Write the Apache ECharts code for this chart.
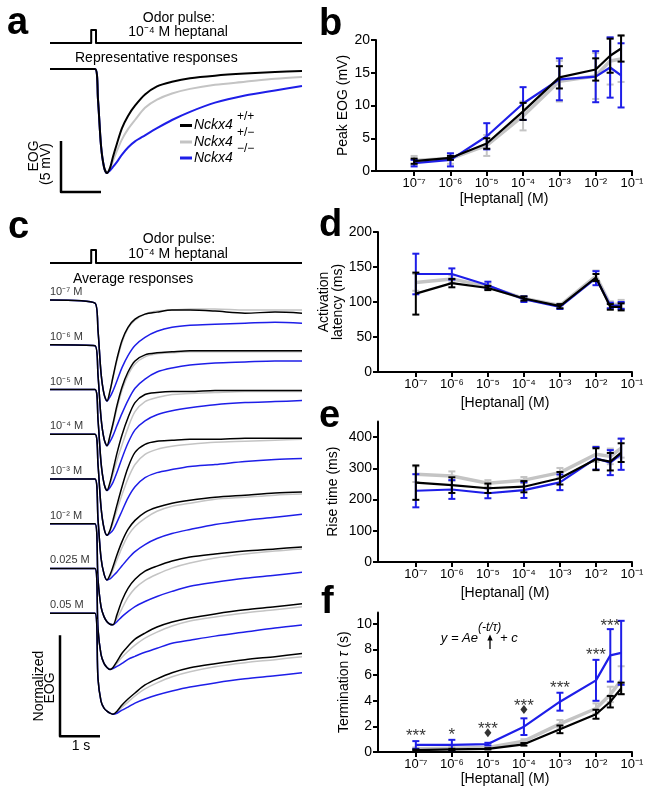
<!DOCTYPE html>
<html><head><meta charset="utf-8">
<script src="https://cdn.jsdelivr.net/npm/echarts@6/dist/echarts.min.js"></script>
<style>html,body{margin:0;padding:0;background:#fff}#c{width:654px;height:792px}</style>
</head><body><div id="c"></div>
<script>
// ---------------- DATA ----------------
// odor pulse (s, on/off)
const stimT = [0, 1.03, 1.03, 1.15, 1.15, 6.3];
const stimV = [0, 0, 1, 1, 0, 0];
// trace sampling times (s)
const tTrace = [0, 1.125, 1.2, 1.275, 1.35, 1.425, 1.5, 1.575, 1.675, 1.8, 1.95, 2.125, 2.375, 2.675, 3.05, 3.5, 4.125, 4.875, 5.625, 6.3];
// panel a: representative responses (mV)
const aWT  = [0, 0, -3, -7.5, -9.6, -10.2, -9.7, -8.6, -7.3, -5.8, -4.6, -3.6, -2.5, -1.7, -1.25, -0.9, -0.65, -0.45, -0.3, -0.2];
const aHet = [0, 0, -3, -7.5, -9.6, -10.2, -9.8, -9.0, -8.0, -6.9, -5.9, -5.0, -3.8, -3.0, -2.4, -1.95, -1.55, -1.25, -0.95, -0.78];
const aKO  = [0, 0, -3, -7.5, -9.6, -10.2, -9.95, -9.6, -9.1, -8.4, -7.7, -7.1, -6.5, -5.8, -5.0, -4.2, -3.3, -2.6, -2.1, -1.67];
// panel c: normalized average responses
const cLabels = ['10\u207B\u2077 M', '10\u207B\u2076 M', '10\u207B\u2075 M', '10\u207B\u2074 M', '10\u207B\u00B3 M', '10\u207B\u00B2 M', '0.025 M', '0.05 M'];
const c7k = [0, -0.03, -0.3, -0.72, -0.93, -1.0, -0.9, -0.76, -0.58, -0.4, -0.27, -0.19, -0.14, -0.12, -0.1, -0.1, -0.11, -0.13, -0.12, -0.13];
const c7g = [0, -0.03, -0.3, -0.72, -0.93, -1.0, -0.9, -0.77, -0.6, -0.42, -0.28, -0.2, -0.14, -0.11, -0.1, -0.09, -0.09, -0.1, -0.1, -0.1];
const c7b = [0, -0.03, -0.3, -0.72, -0.93, -1.0, -0.96, -0.9, -0.8, -0.67, -0.55, -0.45, -0.37, -0.31, -0.27, -0.25, -0.24, -0.23, -0.22, -0.23];
const c6k = [0, -0.01, -0.3, -0.72, -0.93, -1.0, -0.9, -0.78, -0.6, -0.42, -0.27, -0.16, -0.1, -0.08, -0.07, -0.06, -0.06, -0.06, -0.06, -0.06];
const c6g = [0, -0.01, -0.3, -0.72, -0.93, -1.0, -0.91, -0.8, -0.63, -0.45, -0.3, -0.19, -0.12, -0.09, -0.08, -0.07, -0.07, -0.07, -0.07, -0.07];
const c6b = [0, -0.01, -0.3, -0.72, -0.93, -1.0, -0.96, -0.9, -0.8, -0.68, -0.55, -0.43, -0.34, -0.27, -0.23, -0.2, -0.18, -0.17, -0.16, -0.16];
const c5k = [0, 0, -0.3, -0.72, -0.93, -1.0, -0.92, -0.8, -0.63, -0.45, -0.28, -0.13, -0.05, -0.03, -0.02, -0.02, -0.01, -0.01, -0.01, -0.01];
const c5g = [0, 0, -0.3, -0.72, -0.93, -1.0, -0.94, -0.84, -0.7, -0.55, -0.38, -0.22, -0.12, -0.08, -0.05, -0.04, -0.03, -0.02, -0.02, -0.02];
const c5b = [0, 0, -0.3, -0.72, -0.93, -1.0, -0.97, -0.92, -0.82, -0.68, -0.53, -0.4, -0.31, -0.25, -0.21, -0.18, -0.15, -0.13, -0.12, -0.11];
const c4k = [0, 0, -0.3, -0.72, -0.93, -1.0, -0.95, -0.85, -0.7, -0.52, -0.33, -0.18, -0.1, -0.07, -0.06, -0.05, -0.05, -0.04, -0.04, -0.04];
const c4g = [0, 0, -0.3, -0.72, -0.93, -1.0, -0.96, -0.88, -0.75, -0.6, -0.44, -0.3, -0.2, -0.15, -0.12, -0.1, -0.08, -0.07, -0.06, -0.05];
const c4b = [0, 0, -0.3, -0.72, -0.93, -1.0, -0.98, -0.95, -0.87, -0.76, -0.63, -0.52, -0.43, -0.38, -0.35, -0.32, -0.3, -0.27, -0.25, -0.24];
const c3k = [0, 0, -0.4, -0.78, -0.94, -1.0, -0.95, -0.87, -0.75, -0.62, -0.5, -0.41, -0.33, -0.28, -0.24, -0.21, -0.18, -0.16, -0.14, -0.13];
const c3g = [0, 0, -0.4, -0.78, -0.94, -1.0, -0.97, -0.9, -0.8, -0.68, -0.56, -0.47, -0.39, -0.32, -0.27, -0.24, -0.2, -0.18, -0.16, -0.15];
const c3b = [0, 0, -0.4, -0.78, -0.94, -1.0, -0.99, -0.96, -0.92, -0.86, -0.79, -0.72, -0.65, -0.59, -0.54, -0.5, -0.45, -0.41, -0.38, -0.35];
const c2k = [0, 0, -0.55, -0.82, -0.92, -0.97, -0.995, -1.0, -0.9, -0.76, -0.64, -0.55, -0.47, -0.42, -0.37, -0.33, -0.3, -0.27, -0.25, -0.23];
const c2g = [0, 0, -0.55, -0.82, -0.92, -0.97, -0.995, -1.0, -0.94, -0.84, -0.73, -0.64, -0.56, -0.5, -0.44, -0.39, -0.34, -0.3, -0.27, -0.25];
const c2b = [0, 0, -0.55, -0.82, -0.92, -0.97, -0.995, -1.0, -0.97, -0.92, -0.87, -0.82, -0.77, -0.72, -0.67, -0.62, -0.58, -0.54, -0.51, -0.48];
const c25k = [0, 0, -0.6, -0.85, -0.94, -0.98, -1.0, -0.98, -0.92, -0.84, -0.77, -0.7, -0.64, -0.58, -0.53, -0.49, -0.45, -0.41, -0.38, -0.35];
const c25g = [0, 0, -0.6, -0.85, -0.94, -0.98, -1.0, -0.99, -0.94, -0.88, -0.82, -0.76, -0.69, -0.63, -0.57, -0.52, -0.48, -0.44, -0.41, -0.38];
const c25b = [0, 0, -0.6, -0.85, -0.94, -0.98, -1.0, -0.99, -0.97, -0.94, -0.9, -0.87, -0.83, -0.79, -0.74, -0.71, -0.67, -0.63, -0.59, -0.56];
const c50k = [0, 0, -0.65, -0.87, -0.94, -0.97, -0.99, -1.0, -0.97, -0.91, -0.85, -0.79, -0.71, -0.65, -0.59, -0.54, -0.5, -0.46, -0.43, -0.4];
const c50g = [0, 0, -0.65, -0.87, -0.94, -0.97, -0.99, -1.0, -0.98, -0.93, -0.88, -0.82, -0.75, -0.69, -0.63, -0.58, -0.53, -0.49, -0.46, -0.43];
const c50b = [0, 0, -0.65, -0.87, -0.94, -0.97, -0.99, -1.0, -0.99, -0.96, -0.93, -0.89, -0.85, -0.81, -0.77, -0.73, -0.69, -0.65, -0.62, -0.59];

// panels b, d, e, f: concentration series
const conc = [1e-7, 1e-6, 1e-5, 1e-4, 1e-3, 1e-2, 0.025, 0.05];
const xTickExp = [-7, -6, -5, -4, -3, -2, -1];
const xTickLabels = ['10\u207B\u2077', '10\u207B\u2076', '10\u207B\u2075', '10\u207B\u2074', '10\u207B\u00B3', '10\u207B\u00B2', '10\u207B\u00B9'];

const peakWT = [1.5, 2.0, 4.2, 9.1, 14.3, 15.5, 17.6, 18.7];
const peakWTErr = [0.4, 0.3, 0.8, 1.3, 1.7, 1.7, 2.6, 2.0];
const peakHet = [1.6, 1.9, 3.9, 8.4, 13.7, 14.5, 16.8, 17.1];
const peakHetErr = [0.7, 0.8, 1.6, 2.2, 3.1, 3.5, 3.6, 3.5];
const peakKO = [1.2, 1.7, 5.3, 10.3, 14.0, 14.4, 15.8, 14.6];
const peakKOErr = [0.5, 1.0, 2.0, 2.5, 3.2, 3.9, 4.6, 4.9];

const latWT = [112, 127, 120, 105, 94, 135, 93, 93];
const latWTErr = [30, 6, 3, 3, 3, 5, 4, 5];
const latHet = [128, 133, 122, 105, 95, 137, 96, 97];
const latHetErr = [12, 5, 4, 3, 3, 8, 5, 6];
const latKO = [140, 140, 124, 104, 93, 134, 95, 95];
const latKOErr = [29, 8, 5, 4, 3, 10, 4, 5];

const riseWT = [254, 246, 236, 241, 268, 329, 321, 350];
const riseWTErr = [55, 25, 15, 18, 20, 35, 28, 30];
const riseHet = [281, 275, 252, 262, 286, 345, 338, 364];
const riseHetErr = [25, 15, 10, 10, 15, 25, 25, 30];
const riseKO = [228, 232, 220, 230, 255, 332, 318, 345];
const riseKOErr = [53, 30, 16, 25, 25, 36, 40, 50];

const tauWT = [0.15, 0.2, 0.25, 0.6, 1.77, 2.95, 3.93, 4.97];
const tauWTErr = [0.05, 0.05, 0.05, 0.1, 0.3, 0.35, 0.45, 0.45];
const tauHet = [0.25, 0.3, 0.35, 0.85, 2.2, 3.4, 4.5, 5.6];
const tauHetErr = [0.1, 0.1, 0.1, 0.15, 0.3, 0.4, 0.6, 1.1];
const tauKO = [0.55, 0.55, 0.62, 1.98, 3.93, 5.6, 7.55, 7.75];
const tauKOErr = [0.3, 0.4, 0.1, 0.65, 0.7, 1.6, 2.05, 2.5];

// significance marks in f
const sigText = ['***', '*', '***', '***', '***', '***', '***'];
const sigConc = [1e-7, 1e-6, 1e-5, 1e-4, 1e-3, 1e-2, 0.025];
const sigY = [1.22, 1.29, 1.76, 3.55, 4.96, 7.54, 9.8];
const diamondConc = [1e-5, 1e-4];
const diamondY = [1.5, 3.33];

// ---------------- CHART ----------------
const FONT = 'Liberation Sans, Arial, Helvetica, sans-serif';
const BLACK = '#000000', GRAY = '#c4c4c4', BLUE = '#1e1ee8';
const chart = echarts.init(document.getElementById('c'), null, {renderer: 'canvas'});

const grids = [
  {left: 50, top: 30, width: 252, height: 13},      // 0 stim a
  {left: 50, top: 63.9, width: 252, height: 132.6}, // 1 traces a
  {left: 50, top: 250, width: 252, height: 13},     // 2 stim c
  {left: 50, top: 289.9, width: 252, height: 464.6},// 3 traces c
  {left: 376, top: 40, width: 256, height: 131},    // 4 b
  {left: 378, top: 232, width: 254, height: 140},   // 5 d
  {left: 378, top: 421.4, width: 254, height: 140.6}, // 6 e
  {left: 378, top: 612.5, width: 254, height: 139.5}  // 7 f
];
const xAxes = [], yAxes = [], series = [];
function hiddenAxes(gi, xmin, xmax, ymin, ymax) {
  xAxes.push({gridIndex: gi, type: 'value', min: xmin, max: xmax, show: false});
  yAxes.push({gridIndex: gi, type: 'value', min: ymin, max: ymax, show: false});
}
hiddenAxes(0, 0, 6.3, 0, 1);
hiddenAxes(1, 0, 6.3, -12.5, 0.5);
hiddenAxes(2, 0, 6.3, 0, 1);
hiddenAxes(3, 0, 6.3, -4.5, 0.1);

function lineS(gi, data, color, width, z) {
  return {type: 'line', xAxisIndex: gi, yAxisIndex: gi, data: data, symbol: 'none', silent: true,
    lineStyle: {color: color, width: width, cap: 'butt', join: 'round'}, z: z || 2, animation: false};
}
function smoothS(gi, data, color, width, z) {
  const s = lineS(gi, data, color, width, z); s.smooth = 0.3; return s;
}
const zip = (t, v, off) => t.map((x, i) => [x, v[i] - (off || 0)]);

// stimulus lines
series.push(lineS(0, zip(stimT, stimV), BLACK, 2));
series.push(lineS(2, zip(stimT, stimV), BLACK, 2));
// panel a traces
series.push(smoothS(1, zip(tTrace, aHet), GRAY, 2));
series.push(smoothS(1, zip(tTrace, aKO), BLUE, 2));
series.push(smoothS(1, zip(tTrace, aWT), BLACK, 2));
// scale bar a: 5 mV, 1 s
const sbA = {t0: 0.275, v0: -12.05, dv: 5, dt: 1};
series.push(lineS(1, [[sbA.t0, sbA.v0 + sbA.dv], [sbA.t0, sbA.v0], [sbA.t0 + sbA.dt, sbA.v0]], BLACK, 2.5));

// panel c traces
const cSets = [[c7k, c7g, c7b], [c6k, c6g, c6b], [c5k, c5g, c5b], [c4k, c4g, c4b], [c3k, c3g, c3b], [c2k, c2g, c2b], [c25k, c25g, c25b], [c50k, c50g, c50b]];
const cStep = 0.443;
cSets.forEach((s, i) => {
  const off = i * cStep;
  series.push(smoothS(3, zip(tTrace, s[1], off), GRAY, 1.5));
  series.push(smoothS(3, zip(tTrace, s[2], off), BLUE, 1.5));
  series.push(smoothS(3, zip(tTrace, s[0], off), BLACK, 1.5));
});
series.push({type: 'scatter', xAxisIndex: 3, yAxisIndex: 3, symbolSize: 1, itemStyle: {color: 'rgba(0,0,0,0)'},
  data: cLabels.map((l, i) => ({value: [0, -i * cStep], name: l})), silent: true, animation: false,
  label: {show: true, position: 'top', align: 'left', distance: 2, fontSize: 11, color: '#000', fontFamily: FONT, formatter: p => p.name}});
// scale bar c: 1 normalized unit, 1 s
const sbC = {t0: 0.25, v0: -4.32, dv: 1, dt: 1};
series.push(lineS(3, [[sbC.t0, sbC.v0 + sbC.dv], [sbC.t0, sbC.v0], [sbC.t0 + sbC.dt, sbC.v0]], BLACK, 2.5));

// summary panels
const lx = conc.map(c => Math.log10(c));
function errS(gi, ys, es, color, width, z) {
  return {type: 'custom', xAxisIndex: gi, yAxisIndex: gi, silent: true, animation: false, z: z,
    data: lx.map((x, i) => [x, ys[i], es[i]]), encode: {x: 0, y: 1},
    renderItem: function (params, api) {
      const x = api.value(0), y = api.value(1), e = api.value(2);
      const a = api.coord([x, y + e]), b = api.coord([x, y - e]);
      const w = 3.5, st = {stroke: color, lineWidth: width};
      return {type: 'group', children: [
        {type: 'line', shape: {x1: a[0], y1: a[1], x2: b[0], y2: b[1]}, style: st},
        {type: 'line', shape: {x1: a[0] - w, y1: a[1], x2: a[0] + w, y2: a[1]}, style: st},
        {type: 'line', shape: {x1: b[0] - w, y1: b[1], x2: b[0] + w, y2: b[1]}, style: st}
      ]};
    }};
}
const summary = [
  {gi: 4, wt: peakWT, wte: peakWTErr, het: peakHet, hete: peakHetErr, ko: peakKO, koe: peakKOErr, max: 20, ticks: [0, 5, 10, 15, 20], name: 'Peak EOG (mV)', gap: 26, xgap: 21},
  {gi: 5, wt: latWT, wte: latWTErr, het: latHet, hete: latHetErr, ko: latKO, koe: latKOErr, max: 200, ticks: [0, 50, 100, 150, 200], name: 'Activation\nlatency (ms)', gap: 33, xgap: 24},
  {gi: 6, wt: riseWT, wte: riseWTErr, het: riseHet, hete: riseHetErr, ko: riseKO, koe: riseKOErr, max: 450, ticks: [0, 100, 200, 300, 400], name: 'Rise time (ms)', gap: 38, xgap: 24},
  {gi: 7, wt: tauWT, wte: tauWTErr, het: tauHet, hete: tauHetErr, ko: tauKO, koe: tauKOErr, max: 10.9, ticks: [0, 2, 4, 6, 8, 10], name: '{n|Termination }{i|\u03C4}{n| (s)}', gap: 27, xgap: 19}
];
const axLine = {lineStyle: {color: '#000', width: 2}};
summary.forEach(p => {
  xAxes.push({gridIndex: p.gi, type: 'value', min: -8.05, max: -1,
    axisLine: axLine,
    axisTick: {customValues: xTickExp, length: 5, lineStyle: {color: '#000', width: 2}},
    axisLabel: {customValues: xTickExp, formatter: v => xTickLabels[xTickExp.indexOf(Math.round(v))], color: '#000', fontSize: 13, fontFamily: FONT, margin: 6},
    splitLine: {show: false},
    name: '[Heptanal] (M)', nameLocation: 'middle', nameGap: p.xgap,
    nameTextStyle: {color: '#000', fontSize: 14, fontFamily: FONT}});
  yAxes.push({gridIndex: p.gi, type: 'value', min: 0, max: p.max,
    axisLine: Object.assign({show: true}, axLine),
    axisTick: {show: true, customValues: p.ticks, length: 5, lineStyle: {color: '#000', width: 2}},
    axisLabel: {customValues: p.ticks, color: '#000', fontSize: 14, fontFamily: FONT, margin: 6},
    splitLine: {show: false},
    name: p.name, nameLocation: 'middle', nameGap: p.gap, nameRotate: 90,
    nameTextStyle: {color: '#000', fontSize: 14, fontFamily: FONT, lineHeight: 14,
      rich: {n: {fontSize: 14, fontFamily: FONT, color: '#000'}, i: {fontSize: 14, fontFamily: FONT, fontStyle: 'italic', color: '#000'}}}});
  series.push(lineS(p.gi, lx.map((x, i) => [x, p.het[i]]), GRAY, 3.5, 3));
  series.push(errS(p.gi, p.het, p.hete, GRAY, 2, 3));
  series.push(lineS(p.gi, lx.map((x, i) => [x, p.ko[i]]), BLUE, 2.2, 4));
  series.push(errS(p.gi, p.ko, p.koe, BLUE, 2, 4));
  series.push(lineS(p.gi, lx.map((x, i) => [x, p.wt[i]]), BLACK, 2.2, 5));
  series.push(errS(p.gi, p.wt, p.wte, BLACK, 2, 5));
});
// significance in f
series.push({type: 'scatter', xAxisIndex: 7, yAxisIndex: 7, symbolSize: 1, itemStyle: {color: 'rgba(0,0,0,0)'}, silent: true, animation: false, z: 6,
  data: sigConc.map((c, i) => ({value: [Math.log10(c), sigY[i]], name: sigText[i]})),
  label: {show: true, position: 'inside', fontSize: 17, color: '#000', fontFamily: FONT, formatter: p => p.name}});
series.push({type: 'scatter', xAxisIndex: 7, yAxisIndex: 7, symbol: 'diamond', symbolSize: [7, 9], itemStyle: {color: '#000'}, silent: true, animation: false, z: 6,
  data: diamondConc.map((c, i) => [Math.log10(c), diamondY[i]])});

// text graphics
const T = (x, y, text, opt) => Object.assign({type: 'text', x: x, y: y, silent: true,
  style: Object.assign({text: text, fill: '#000', font: '14px ' + FONT, align: 'center', verticalAlign: 'middle'}, (opt && opt.style) || {})},
  opt && opt.rotation ? {rotation: opt.rotation} : {});
const bold = '700 38px ' + FONT;
const graphics = [
  T(7, 24, 'a', {style: {font: bold, align: 'left'}}),
  T(319, 25, 'b', {style: {font: bold, align: 'left'}}),
  T(8, 228, 'c', {style: {font: bold, align: 'left'}}),
  T(319, 226, 'd', {style: {font: bold, align: 'left'}}),
  T(319, 417, 'e', {style: {font: bold, align: 'left'}}),
  T(321, 603, 'f', {style: {font: bold, align: 'left'}}),
  T(179, 18.5, 'Odor pulse:'),
  T(178, 32.5, '10\u207B\u2074 M heptanal'),
  T(75, 58, 'Representative responses', {style: {align: 'left'}}),
  T(179, 239, 'Odor pulse:'),
  T(178, 254, '10\u207B\u2074 M heptanal'),
  T(73, 279, 'Average responses', {style: {align: 'left'}}),
  T(34, 156, 'EOG', {rotation: Math.PI / 2}),
  T(46, 164, '(5 mV)', {rotation: Math.PI / 2}),
  T(39, 686, 'Normalized', {rotation: Math.PI / 2}),
  T(50, 688, 'EOG', {rotation: Math.PI / 2}),
  T(81, 746, '1 s'),
  // formula in f
  T(478, 638, 'y = Ae', {style: {align: 'right', font: 'italic 13px ' + FONT}}),
  T(478, 628, '(-t/\u03C4)', {style: {align: 'left', font: 'italic 12px ' + FONT}}),
  T(500, 638, '+ c', {style: {align: 'left', font: 'italic 13px ' + FONT}}),
  {type: 'line', silent: true, shape: {x1: 490, y1: 649, x2: 490, y2: 639}, style: {stroke: '#000', lineWidth: 1.3}},
  {type: 'polygon', silent: true, shape: {points: [[490, 634.5], [487.3, 640.5], [492.7, 640.5]]}, style: {fill: '#000'}}
];
// legend (panel a)
const legendItems = [[BLUE, '\u2212/\u2212', 158], [GRAY, '+/\u2212', 142], [BLACK, '+/+', 125.5]];
legendItems.forEach(([col, sup, y]) => {
  graphics.push({type: 'line', silent: true, shape: {x1: 180, y1: y, x2: 192, y2: y}, style: {stroke: col, lineWidth: 3}});
  graphics.push(T(194, y, 'Nckx4', {style: {align: 'left', font: 'italic 14px ' + FONT}}));
  graphics.push(T(237, y - 9, sup, {style: {align: 'left', font: '12px ' + FONT}}));
});

chart.setOption({
  animation: false,
  backgroundColor: '#ffffff',
  textStyle: {fontFamily: FONT},
  grid: grids,
  xAxis: xAxes,
  yAxis: yAxes,
  series: series,
  graphic: graphics
});
</script></body></html>
